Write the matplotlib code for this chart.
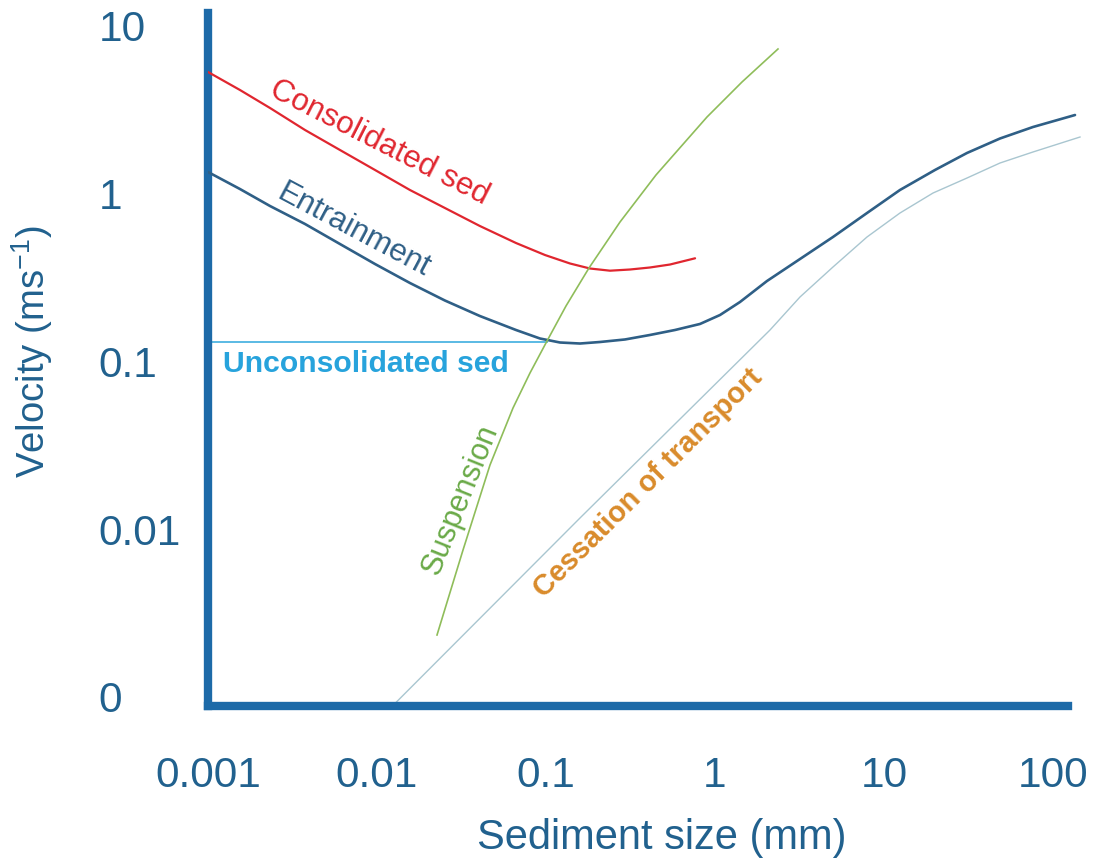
import matplotlib
matplotlib.use("Agg")
import matplotlib.pyplot as plt
from matplotlib.ticker import NullLocator

plt.rcParams['font.family'] = ['Liberation Sans', 'DejaVu Sans']
plt.rcParams['mathtext.fontset'] = 'custom'
plt.rcParams['mathtext.rm'] = 'Liberation Sans'
plt.rcParams['mathtext.default'] = 'regular'

# ---------------- data ----------------
x_ticks = [0.001, 0.01, 0.1, 1, 10, 100]
x_ticklabels = ['0.001', '0.01', '0.1', '1', '10', '100']
y_ticks = [0.001, 0.01, 0.1, 1, 10]
y_ticklabels = ['0', '0.01', '0.1', '1', '10']

consolidated_x = [0.001, 0.001546, 0.002328, 0.00375, 0.006039, 0.009727, 0.01566,
                  0.02522, 0.04062, 0.06645, 0.09863, 0.1387, 0.1820, 0.2393,
                  0.3141, 0.4121, 0.5420, 0.7621]
consolidated_v = [5.319, 4.154, 3.245, 2.399, 1.823, 1.386, 1.053,
                  0.8224, 0.6423, 0.5086, 0.4313, 0.3839, 0.3584, 0.3478,
                  0.3535, 0.3634, 0.3786, 0.4123]

entrainment_x = [0.001, 0.001546, 0.002328, 0.00375, 0.006039, 0.009727, 0.01566,
                 0.02522, 0.04062, 0.06645, 0.09215, 0.1210, 0.1589, 0.2087,
                 0.2934, 0.4121, 0.5799, 0.8152, 1.0706, 1.4056, 2.031, 3.184,
                 4.991, 7.934, 12.43, 20.04, 30.98, 48.57, 76.15, 134.96]
entrainment_v = [1.348, 1.067, 0.8451, 0.6603, 0.5016, 0.3813, 0.2938,
                 0.2310, 0.1867, 0.1541, 0.1371, 0.1298, 0.1280, 0.1307,
                 0.1353, 0.1439, 0.1541, 0.1674, 0.1893, 0.2263, 0.3019, 0.4083,
                 0.5524, 0.7677, 1.053, 1.386, 1.750, 2.135, 2.500, 2.947]

unconsolidated_x = [0.001, 0.1014]
unconsolidated_v = [0.1306, 0.1306]

suspension_x = [0.02265, 0.03228, 0.04662, 0.06378, 0.08040, 0.1014, 0.1313,
                0.1796, 0.2741, 0.4476, 0.8968, 1.445, 2.359]
suspension_v = [0.002342, 0.007519, 0.02415, 0.05281, 0.08541, 0.1325, 0.2142,
                0.3609, 0.6785, 1.294, 2.868, 4.637, 7.294]

cessation_x = [0.01243, 0.1589, 2.116, 3.184, 4.991, 7.934, 12.43, 19.50,
               30.98, 48.57, 76.15, 144.5]
cessation_v = [0.00089, 0.01167, 0.1541, 0.2424, 0.3659, 0.5524, 0.7677, 1.010,
               1.241, 1.525, 1.774, 2.179]

# ---------------- colours ----------------
spine_col = '#1d6aa8'
tick_col = '#21618e'
red = '#e0262f'
navy = '#2f5f86'
cyan_line = '#4db4e2'
cyan_text = '#27a3dc'
green_line = '#8fbd5a'
green_text = '#6aaa48'
pale = '#a9c6d0'
orange = '#d98b2b'

# ---------------- figure / axes geometry ----------------
W, H = 1097, 865
x0_px, x1_px, yb_px, yt_px = 208, 1085, 706, 13
px_per_dec_x, px_per_dec_y = 169.0, 167.75

fig = plt.figure(figsize=(W / 100, H / 100), dpi=100)
ax = fig.add_axes([x0_px / W, 1 - yb_px / H, (x1_px - x0_px) / W, (yb_px - yt_px) / H])
ax.set_xscale('log')
ax.set_yscale('log')
ax.set_xlim(0.001, 10 ** ((x1_px - x0_px) / px_per_dec_x - 3))
ax.set_ylim(10 ** (1 - (yb_px - 26) / px_per_dec_y), 10 ** (1 + (26 - yt_px) / px_per_dec_y))

# curves
ax.plot(consolidated_x, consolidated_v, color=red, lw=1.6, solid_capstyle='round',
        solid_joinstyle='round', zorder=3)
ax.plot(entrainment_x, entrainment_v, color=navy, lw=1.9, solid_capstyle='round',
        solid_joinstyle='round', zorder=3)
ax.plot(unconsolidated_x, unconsolidated_v, color=cyan_line, lw=1.3, zorder=2)
ax.plot(suspension_x, suspension_v, color=green_line, lw=1.2,
        solid_joinstyle='round', zorder=3)
ax.plot(cessation_x, cessation_v, color=pale, lw=1.0, solid_joinstyle='round', zorder=2)

# annotations
ax.text(0.01028, 2.007, 'Consolidated sed', color=red, fontsize=22.5,
        rotation=-27, ha='center', va='center', rotation_mode='anchor')
ax.text(0.00731, 0.608, 'Entrainment', color=navy, fontsize=22.5,
        rotation=-28, ha='center', va='center', rotation_mode='anchor')
ax.text(0.001227, 0.0966, 'Unconsolidated sed', color=cyan_text, fontsize=21.7,
        fontweight='bold', ha='left', va='center')
ax.text(0.031, 0.01493, 'Suspension', color=green_text, fontsize=22,
        rotation=68, ha='center', va='center', rotation_mode='anchor')
ax.text(0.402, 0.01888, 'Cessation of transport', color=orange, fontsize=21,
        fontweight='bold', rotation=45, ha='center', va='center', rotation_mode='anchor')

# ticks
ax.set_xticks(x_ticks)
ax.set_xticklabels(x_ticklabels)
ax.set_yticks(y_ticks)
ax.set_yticklabels(y_ticklabels)
ax.xaxis.set_minor_locator(NullLocator())
ax.yaxis.set_minor_locator(NullLocator())
ax.tick_params(axis='x', length=0, pad=36, labelsize=30.5, labelcolor=tick_col)
ax.tick_params(axis='y', length=0, pad=79, labelsize=30.5, labelcolor=tick_col)
for lab in ax.get_yticklabels():
    lab.set_horizontalalignment('left')

# axis labels
ax.set_xlabel('Sediment size (mm)', fontsize=30, color=tick_col)
ax.xaxis.label.set_va('center')
ax.xaxis.set_label_coords((662 - x0_px) / (x1_px - x0_px), (yb_px - 838) / (yb_px - yt_px))
ax.set_ylabel('Velocity (ms$^{-1}$)', fontsize=27.5, color=tick_col)
ax.yaxis.label.set_va('center')
ax.yaxis.set_label_coords((32 - x0_px) / (x1_px - x0_px), (yb_px - 352) / (yb_px - yt_px))

# spines
for s in ['top', 'right']:
    ax.spines[s].set_visible(False)
for s in ['left', 'bottom']:
    ax.spines[s].set_color(spine_col)
    ax.spines[s].set_linewidth(6)
    ax.spines[s].set_capstyle('projecting')
ax.spines['bottom'].set_bounds(0.001, 10 ** ((1068 - x0_px) / px_per_dec_x - 3))
ax.patch.set_alpha(0)

fig.savefig('out.png', dpi=100)
